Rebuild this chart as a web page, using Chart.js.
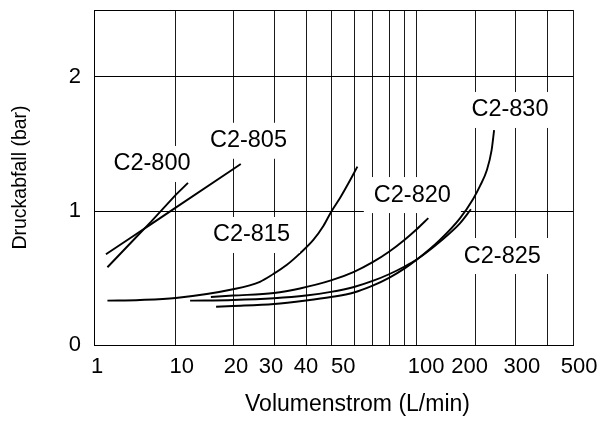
<!DOCTYPE html>
<html><head><meta charset="utf-8">
<script src="https://cdn.jsdelivr.net/npm/chart.js@4.4.1/dist/chart.umd.min.js"></script>
<style>html,body{margin:0;padding:0;background:#fff}canvas{display:block}</style>
</head><body>
<canvas id="c" width="603" height="422"></canvas>
<script>
// ---- data ----
const xTickValues = [1, 10, 20, 30, 40, 50, 60, 70, 80, 90, 100, 200, 300, 400, 500];
const xTickLabels = ['1', '10', '20', '30', '40', '50', '', '', '', '', '100', '200', '300', '', '500'];
const yTickValues = [0, 1, 2, 2.5];
const yTickLabels = ['0', '1', '2', ''];

const seriesNames = ['C2-800', 'C2-805', 'C2-815', 'C2-820', 'C2-825', 'C2-830'];

const c2_800_x = [1.46, 3, 5, 10, 11.6];
const c2_800_y = [0.58, 0.78, 0.92, 1.12, 1.21];
const c2_805_x = [1.40, 3, 5, 10, 20, 21.6];
const c2_805_y = [0.677, 0.812, 0.902, 1.025, 1.311, 1.351];
const c2_815_x = [1.46, 3.66, 10, 20, 26.1, 29.8, 33.6, 37.9, 42.7, 46.7, 50.1, 53.7, 57.4, 61.7];
const c2_815_y = [0.331, 0.336, 0.351, 0.416, 0.472, 0.53, 0.597, 0.684, 0.784, 0.888, 0.995, 1.097, 1.207, 1.331];
const c2_820_x = [15.3, 20, 30, 37.9, 50, 60, 70, 80, 90, 100, 114.3];
const c2_820_y = [0.358, 0.369, 0.388, 0.422, 0.482, 0.546, 0.618, 0.696, 0.786, 0.866, 0.947];
const c2_825_x = [11.9, 20, 30, 40, 50, 60, 70, 80, 90, 100, 131, 166, 189];
const c2_825_y = [0.331, 0.336, 0.349, 0.369, 0.396, 0.433, 0.478, 0.528, 0.586, 0.640, 0.771, 0.908, 1.013];
const c2_830_x = [16.3, 20, 30, 40, 50, 60, 70, 80, 90, 100, 131, 166, 194, 209, 224, 235, 241];
const c2_830_y = [0.286, 0.291, 0.306, 0.332, 0.358, 0.392, 0.443, 0.501, 0.572, 0.638, 0.784, 0.945, 1.090, 1.187, 1.306, 1.455, 1.604];

// label anchor points (data units)
const curveLabelX = [5.13, 23.3, 24.0, 96.1, 262, 283];
const curveLabelY = [1.351, 1.524, 0.821, 1.119, 0.664, 1.754];

// ---- the non-uniform flow axis of the original print (fraction of axis length at each grid value) ----
const axisGridValues = [1, 10, 20, 30, 40, 50, 60, 70, 80, 90, 100, 200, 300, 400, 500];
const axisGridFractions = [0, 0.1706, 0.2902, 0.3758, 0.4426, 0.4948, 0.5428, 0.5818, 0.6159, 0.6486, 0.6743, 0.7969, 0.8804, 0.9472, 1];
// loose placement of the printed tick numbers (leading / trailing spaces)
const xLabelLead = [1, 2, 1, 0, 0, 4, 0, 0, 0, 0, 3, 0, 2, 0, 2];
const xLabelTrail = [0, 0, 0, 1, 0, 0, 0, 0, 0, 0, 0, 2, 0, 0, 0];

function warp(v) {
  const V = axisGridValues, F = axisGridFractions;
  if (v <= V[0]) return F[0];
  for (let i = 0; i < V.length - 1; i++) {
    if (v <= V[i + 1]) {
      const t = Math.log(v / V[i]) / Math.log(V[i + 1] / V[i]);
      return F[i] + t * (F[i + 1] - F[i]);
    }
  }
  return F[F.length - 1];
}
function unwarp(d) {
  const V = axisGridValues, F = axisGridFractions;
  for (let i = 0; i < F.length - 1; i++) {
    if (d <= F[i + 1]) {
      const t = (d - F[i]) / (F[i + 1] - F[i]);
      return V[i] * Math.pow(V[i + 1] / V[i], t);
    }
  }
  return V[V.length - 1];
}

class WarpedFlowScale extends Chart.LinearScale {
  static id = 'warpedFlow';
  static defaults = {};
  determineDataLimits() {
    this.min = axisGridValues[0];
    this.max = axisGridValues[axisGridValues.length - 1];
  }
  buildTicks() {
    return xTickValues.map(v => ({ value: v }));
  }
  getPixelForValue(value) {
    return this.getPixelForDecimal(warp(value));
  }
  getValueForPixel(pixel) {
    return unwarp(this.getDecimalForPixel(pixel));
  }
}
Chart.register(WarpedFlowScale);

const FONT = "'Liberation Sans', Arial, Helvetica, sans-serif";

function pts(xs, ys) { return xs.map((x, i) => ({ x: x, y: ys[i] })); }

const seriesX = [c2_800_x, c2_805_x, c2_815_x, c2_820_x, c2_825_x, c2_830_x];
const seriesY = [c2_800_y, c2_805_y, c2_815_y, c2_820_y, c2_825_y, c2_830_y];

const datasets = seriesNames.map((n, i) => ({
  label: n,
  data: pts(seriesX[i], seriesY[i]),
  borderColor: '#000',
  borderWidth: 1.9,
  pointRadius: 0,
  fill: false,
  tension: i < 2 ? 0 : 0.4,
  cubicInterpolationMode: i < 2 ? 'default' : 'monotone'
}));

const curveLabels = {
  id: 'curveLabels',
  afterDatasetsDraw(chart) {
    const { ctx } = chart;
    const x = chart.scales.x, y = chart.scales.y;
    ctx.save();
    ctx.font = '23.5px ' + FONT;
    ctx.textAlign = 'center';
    ctx.textBaseline = 'middle';
    seriesNames.forEach((t, i) => {
      const px = x.getPixelForValue(curveLabelX[i]);
      const py = y.getPixelForValue(curveLabelY[i]);
      const w = ctx.measureText(t).width + 20;
      const h = 36;
      ctx.fillStyle = '#fff';
      ctx.fillRect(px - w / 2, py - h / 2, w, h);
      ctx.fillStyle = '#000';
      ctx.fillText(t, px, py);
    });
    ctx.restore();
  }
};

const xTitle = {
  id: 'xTitle',
  afterDraw(chart) {
    const { ctx, chartArea } = chart;
    ctx.save();
    ctx.font = '23px ' + FONT;
    ctx.fillStyle = '#000';
    ctx.textAlign = 'center';
    ctx.textBaseline = 'middle';
    ctx.fillText('Volumenstrom (L/min)', (chartArea.left + chartArea.right) / 2 + 24, chart.height - 17);
    ctx.restore();
  }
};

new Chart(document.getElementById('c'), {
  type: 'line',
  data: { datasets },
  plugins: [curveLabels, xTitle],
  options: {
    responsive: false,
    animation: false,
    devicePixelRatio: 1,
    layout: { padding: { top: 10, right: 30, left: 0, bottom: 0 } },
    plugins: { legend: { display: false }, tooltip: { enabled: false } },
    scales: {
      x: {
        type: 'warpedFlow',
        afterFit(s) { s.height = 77; s.paddingLeft = 0; s.paddingRight = 0; },
        grid: { color: '#1a1a1a', lineWidth: 1, drawTicks: false },
        border: { display: true, color: '#000', width: 1 },
        ticks: {
          autoSkip: false, maxRotation: 0, minRotation: 0, padding: 9,
          color: '#000', font: { family: FONT, size: 22 },
          callback: (v, i) => xTickLabels[i] === '' ? '' :
            ' '.repeat(xLabelLead[i]) + xTickLabels[i] + ' '.repeat(xLabelTrail[i])
        }
      },
      y: {
        type: 'linear', min: 0, max: 2.5,
        afterBuildTicks(s) { s.ticks = yTickValues.map(v => ({ value: v })); },
        afterFit(s) { s.width = 94; s.paddingTop = 0; s.paddingBottom = 0; },
        grid: { color: '#000', lineWidth: 1, drawTicks: false },
        border: { display: true, color: '#000', width: 1 },
        ticks: {
          padding: 13, color: '#000', font: { family: FONT, size: 22 },
          callback: (v, i) => yTickLabels[i]
        },
        title: {
          display: true, text: 'Druckabfall (bar)', color: '#000',
          font: { family: FONT, size: 19.5 }, padding: { top: 9, bottom: 0 }
        }
      }
    }
  }
});
</script>
</body></html>
